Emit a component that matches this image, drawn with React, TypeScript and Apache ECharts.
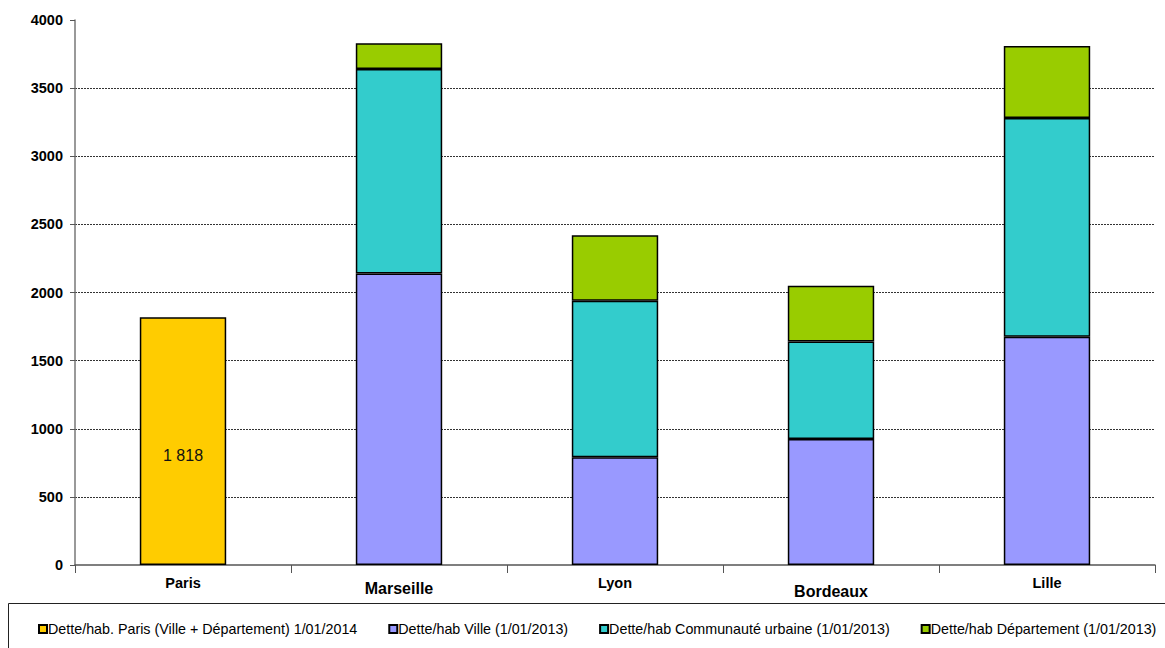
import React, { useEffect, useRef } from "react";
import * as echarts from "echarts";

const categories = ["Paris", "Marseille", "Lyon", "Bordeaux", "Lille"];
const parisDebt = [1818, "-", "-", "-", "-"];
const villeDebt = ["-", 2140, 790, 925, 1675];
const cuDebt = ["-", 1500, 1150, 715, 1605];
const deptDebt = ["-", 190, 480, 410, 530];
const yTicks = [0, 500, 1000, 1500, 2000, 2500, 3000, 3500, 4000];

const seriesNames = [
  "Dette/hab. Paris (Ville + Département) 1/01/2014",
  "Dette/hab Ville (1/01/2013)",
  "Dette/hab Communauté urbaine (1/01/2013)",
  "Dette/hab Département (1/01/2013)",
];
const colors = ["#FFCC00", "#9999FF", "#33CCCC", "#99CC00"];

export default function App() {
  const ref = useRef<HTMLDivElement>(null);
  useEffect(() => {
    if (!ref.current) return;
    const chart = echarts.init(ref.current, null, { renderer: "svg" });
    const font = "Arial, 'Liberation Sans', sans-serif";
    const datas = [parisDebt, villeDebt, cuDebt, deptDebt];
    chart.setOption({
      animation: false,
      textStyle: { fontFamily: font },
      grid: { left: 75, right: 10, top: 20, bottom: 83 },
      graphic: [
        {
          type: "rect",
          shape: { x: 8.5, y: 603.5, width: 1170, height: 60 },
          style: { fill: "#fff", stroke: "#222", lineWidth: 1 },
          z: 0,
        },
      ],
      legend: {
        left: 33,
        top: 617,
        itemWidth: 8,
        itemHeight: 8,
        itemGap: 31,
        icon: "rect",
        textStyle: { fontSize: 14.3, color: "#000", fontFamily: font, padding: [0, 0, 0, -4] },
        data: seriesNames,
      },
      xAxis: {
        type: "category",
        data: categories,
        axisLine: { lineStyle: { color: "#555", width: 1.5 } },
        axisTick: { show: true, length: 8, lineStyle: { color: "#555" } },
        axisLabel: {
          interval: 0,
          margin: 10,
          formatter: (v: string) => {
            if (v === "Marseille") return "{big|" + v + "}";
            if (v === "Bordeaux") return "{big2|" + v + "}";
            return "{small|" + v + "}";
          },
          rich: {
            small: { fontSize: 14.5, fontWeight: "bold", color: "#000", fontFamily: font },
            big: { fontSize: 16, fontWeight: "bold", color: "#000", fontFamily: font, padding: [5, 0, 0, 0] },
            big2: { fontSize: 16, fontWeight: "bold", color: "#000", fontFamily: font, padding: [8, 0, 0, 0] },
          },
        },
      },
      yAxis: {
        type: "value",
        min: yTicks[0],
        max: yTicks[yTicks.length - 1],
        interval: 500,
        axisLine: { show: true, lineStyle: { color: "#777", width: 1.5 } },
        axisTick: { show: true, length: 5, lineStyle: { color: "#555" } },
        axisLabel: {
          fontSize: 14.5,
          fontWeight: "bold",
          color: "#000",
          margin: 12,
          fontFamily: font,
          formatter: (v: number) => String(v),
        },
        splitLine: {
          show: true,
          showMinLine: false,
          showMaxLine: false,
          lineStyle: { color: "#333", type: [2, 1], width: 1 },
        },
      },
      series: datas.map((d, i) => ({
        name: seriesNames[i],
        type: "bar",
        stack: "total",
        data: d,
        barWidth: "40%",
        itemStyle: { color: colors[i], borderColor: "#000", borderWidth: 1.5 },
        label:
          i === 0
            ? {
                show: true,
                position: "insideBottom",
                distance: 102,
                formatter: "1 818",
                fontSize: 16,
                color: "#111",
                fontFamily: font,
              }
            : { show: false },
      })),
    });
    return () => chart.dispose();
  }, []);
  return (
    <div
      ref={ref}
      style={{ position: "fixed", left: 0, top: 0, width: 1165, height: 648, background: "#fff" }}
    />
  );
}
